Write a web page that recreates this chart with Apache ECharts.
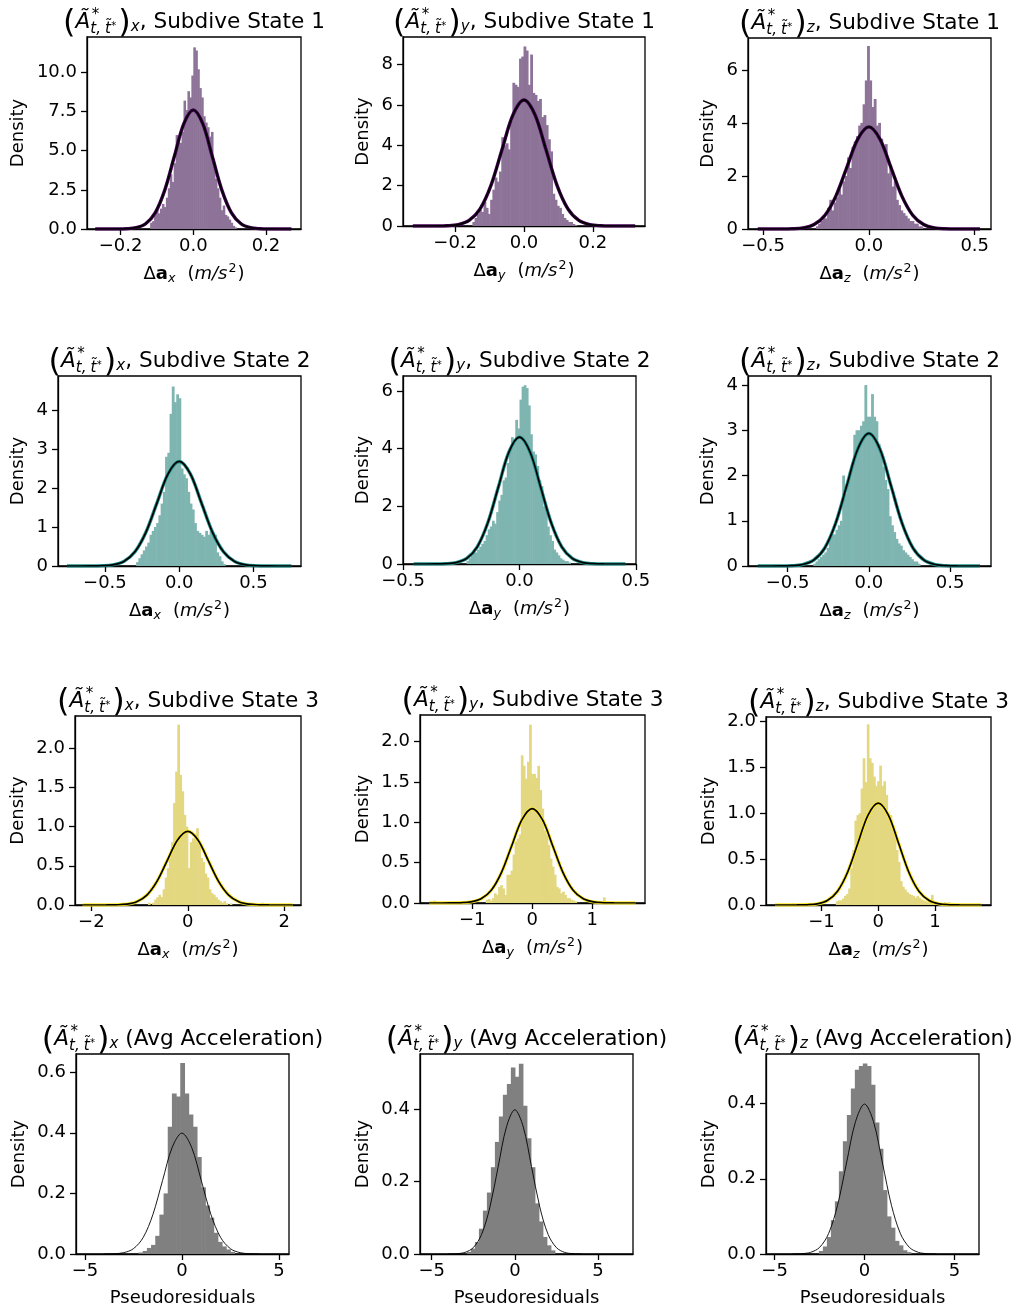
<!DOCTYPE html>
<html><head><meta charset="utf-8">
<script src="https://cdn.jsdelivr.net/npm/echarts@6/dist/echarts.min.js"></script>
<style>html,body{margin:0;padding:0;background:#fff}#c{width:1023px;height:1312px}</style>
</head><body><div id="c"></div><script>
// ---------------- DATA ----------------
// Histogram: first bin left edge, bin width, densities (per bin)
const p1HistStart=-0.1188, p1HistWidth=0.0054;
const p1Density=[0.4,0.5,0.9,1.2,1.0,1.3,1.6,1.4,2.0,2.6,3.5,3.0,4.2,6.0,5.8,5.5,6.2,8.2,7.6,8.8,8.4,9.8,11.6,11.4,10.2,9.0,8.4,7.2,6.8,6.5,5.9,6.2,4.0,3.2,2.6,2.0,1.2,1.5,0.9,0.8,0.6,0.4,0.2,0.1];
const p2HistStart=-0.1500, p2HistWidth=0.00646;
const p2Density=[0.2,0.4,0.6,0.8,0.7,1.2,0.9,0.6,1.3,1.8,2.4,2.2,2.7,4.4,4.0,4.1,3.8,5.2,7.1,7.0,6.9,8.3,8.4,8.9,8.7,7.0,8.5,6.6,6.5,6.2,6.3,5.4,5.5,5.0,4.3,3.7,1.6,1.3,1.0,0.9,0.6,0.4,0.3,0.2,0.2,0.1,0.05];
const p3HistStart=-0.2500, p3HistWidth=0.0105;
const p3Density=[0.1,0.2,0.3,0.5,0.4,0.8,1.1,0.7,1.0,1.2,1.5,1.3,1.8,2.0,2.7,2.3,3.1,3.3,3.5,3.9,4.0,4.7,5.6,6.9,5.6,4.6,4.9,3.9,4.0,3.4,3.0,3.2,2.1,2.4,1.6,1.8,1.1,0.9,0.7,0.6,0.5,0.4,0.3,0.3,0.2,0.2,0.1,0.1];
const p4HistStart=-0.2900, p4HistWidth=0.015;
const p4Density=[0.1,0.2,0.3,0.4,0.5,0.6,0.8,0.9,1.0,1.1,1.3,1.6,1.9,2.8,2.9,3.9,4.6,4.2,4.4,4.3,2.5,2.35,2.25,1.9,1.6,1.45,1.1,0.9,0.85,0.8,0.75,0.9,0.8,0.9,0.85,0.8,0.35,0.25,0.12,0.05];
const p5HistStart=-0.2275, p5HistWidth=0.0091;
const p5Density=[0.1,0.2,0.3,0.4,0.4,0.5,0.6,0.7,0.8,1.0,1.2,1.3,1.5,1.4,1.8,2.2,2.4,2.9,3.0,3.5,3.9,4.4,4.2,5.0,4.7,5.7,6.15,6.2,6.1,5.5,4.5,3.9,3.8,3.4,2.9,2.7,2.0,1.9,1.3,1.0,0.8,0.5,0.4,0.3,0.2,0.15,0.1,0.1,0.05];
const p6HistStart=-0.3420, p6HistWidth=0.01368;
const p6Density=[0.05,0.1,0.15,0.2,0.25,0.3,0.4,0.6,0.7,0.7,0.8,0.9,1.0,2.0,1.6,1.8,2.1,2.2,2.9,3.0,3.0,3.1,3.2,4.0,3.3,3.3,3.8,3.3,3.2,2.7,2.5,2.2,1.9,1.7,1.1,0.9,0.75,0.6,0.5,0.45,0.35,0.3,0.25,0.2,0.15,0.1,0.1,0.05];
const p7HistStart=-0.8265, p7HistWidth=0.0435;
const p7Density=[0.03,0,0.03,0.07,0.1,0.13,0.1,0.2,0.35,0.47,0.6,0.8,1.3,1.7,2.3,1.66,1.45,1.15,1.0,0.47,0.8,0.85,0.85,0.98,0.8,0.6,0.55,0.4,0.35,0.2,0.15,0.13,0.1,0.07,0.05,0.03,0.05,0.02,0,0.02];
const p7OutlierLeft=[1.175,1.349,1.523], p7OutlierDensity=[0.03,0.02,0.03];
const p8HistStart=-0.774, p8HistWidth=0.0344;
const p8Density=[0.04,0.05,0.03,0.06,0.12,0.1,0.2,0.22,0.18,0.1,0.35,0.35,0.4,0.6,0.76,0.8,0.85,1.83,1.7,1.54,1.75,2.21,1.6,1.6,1.55,1.7,1.4,1.17,0.9,0.85,0.72,0.55,0.45,0.35,0.2,0.18,0.12,0.14,0.1,0.06,0.06,0.04,0.03,0.02];
const p8OutlierLeft=[-1.65,1.18], p8OutlierDensity=[0.03,0.07];
const p9HistStart=-0.7483, p9HistWidth=0.0365;
const p9Density=[0.04,0.05,0.05,0.07,0.1,0.12,0.18,0.4,0.6,0.92,0.98,1.0,1.27,1.6,1.34,1.97,1.6,1.55,1.4,1.3,1.35,1.52,1.3,1.35,1.2,1.0,0.98,0.84,0.8,0.6,0.47,0.26,0.2,0.17,0.14,0.12,0.11,0.1,0.08,0.1,0.08,0.06,0.05,0.04,0.03,0.05,0.11,0.03];
const p9OutlierLeft=[-1.52,1.16,1.23], p9OutlierDensity=[0.02,0.03,0.03];
const p10HistStart=-2.236, p10HistWidth=0.215;
const p10Density=[0.005,0.01,0.02,0.03,0.06,0.13,0.2,0.42,0.53,0.52,0.63,0.53,0.46,0.42,0.32,0.22,0.16,0.12,0.07,0.04,0.025,0.015,0.007];
const p11HistStart=-2.88, p11HistWidth=0.24;
const p11Density=[0.006,0.015,0.033,0.07,0.12,0.17,0.24,0.31,0.38,0.44,0.47,0.516,0.49,0.526,0.41,0.32,0.24,0.14,0.09,0.047,0.024,0.01];
const p12HistStart=-2.537, p12HistWidth=0.2222;
const p12Density=[0.008,0.02,0.045,0.09,0.14,0.22,0.3,0.37,0.44,0.49,0.5,0.507,0.5,0.45,0.35,0.28,0.17,0.1,0.07,0.035,0.023,0.01,0.005];

// Fitted normal curves
const p1CurveX=[-0.27,-0.21,-0.1838,-0.1575,-0.1313,-0.105,-0.0788,-0.0525,-0.0263,0,0.0263,0.0525,0.0788,0.105,0.1313,0.1575,0.1838,0.21,0.27];
const p1CurveY=[0,0.0025,0.017,0.084,0.334,1.028,2.468,4.609,6.707,7.6,6.707,4.609,2.468,1.028,0.334,0.084,0.017,0.0025,0];
const p2CurveX=[-0.323,-0.2552,-0.2233,-0.1914,-0.1595,-0.1276,-0.0957,-0.0638,-0.0319,0,0.0319,0.0638,0.0957,0.1276,0.1595,0.1914,0.2233,0.2552,0.323];
const p2CurveY=[0,0.0021,0.0138,0.069,0.274,0.846,2.029,3.791,5.516,6.25,5.516,3.791,2.029,0.846,0.274,0.069,0.0138,0.0021,0];
const p3CurveX=[-0.525,-0.4144,-0.3626,-0.3108,-0.259,-0.2072,-0.1554,-0.1036,-0.0518,0,0.0518,0.1036,0.1554,0.2072,0.259,0.3108,0.3626,0.4144,0.525];
const p3CurveY=[0,0.0013,0.0085,0.0427,0.169,0.521,1.25,2.335,3.398,3.85,3.398,2.335,1.25,0.521,0.169,0.0427,0.0085,0.0013,0];
const p4CurveX=[-0.756,-0.596,-0.5215,-0.447,-0.3725,-0.298,-0.2235,-0.149,-0.0745,0,0.0745,0.149,0.2235,0.298,0.3725,0.447,0.5215,0.596,0.756];
const p4CurveY=[0,0.0009,0.0059,0.0297,0.118,0.363,0.87,1.625,2.365,2.68,2.365,1.625,0.87,0.363,0.118,0.0297,0.0059,0.0009,0];
const p5CurveX=[-0.455,-0.3628,-0.3175,-0.2721,-0.2268,-0.1814,-0.1361,-0.0907,-0.0454,0,0.0454,0.0907,0.1361,0.1814,0.2268,0.2721,0.3175,0.3628,0.455];
const p5CurveY=[0,0.0015,0.0097,0.0488,0.193,0.595,1.429,2.669,3.883,4.4,3.883,2.669,1.429,0.595,0.193,0.0488,0.0097,0.0015,0];
const p6CurveX=[-0.684,-0.544,-0.476,-0.408,-0.34,-0.272,-0.204,-0.136,-0.068,0,0.068,0.136,0.204,0.272,0.34,0.408,0.476,0.544,0.684];
const p6CurveY=[0,0.001,0.0064,0.0325,0.129,0.396,0.951,1.777,2.586,2.93,2.586,1.777,0.951,0.396,0.129,0.0325,0.0064,0.001,0];
const p7CurveX=[-2.18,-1.696,-1.484,-1.272,-1.06,-0.848,-0.636,-0.424,-0.212,0,0.212,0.424,0.636,0.848,1.06,1.272,1.484,1.696,2.18];
const p7CurveY=[0,0.0003,0.0021,0.0104,0.0413,0.127,0.305,0.57,0.83,0.94,0.83,0.57,0.305,0.127,0.0413,0.0104,0.0021,0.0003,0];
const p8CurveX=[-1.72,-1.364,-1.1935,-1.023,-0.8525,-0.682,-0.5115,-0.341,-0.1705,0,0.1705,0.341,0.5115,0.682,0.8525,1.023,1.1935,1.364,1.72];
const p8CurveY=[0,0.0004,0.0026,0.013,0.0514,0.158,0.38,0.71,1.033,1.17,1.033,0.71,0.38,0.158,0.0514,0.013,0.0026,0.0004,0];
const p9CurveX=[-1.82,-1.436,-1.2565,-1.077,-0.8975,-0.718,-0.5385,-0.359,-0.1795,0,0.1795,0.359,0.5385,0.718,0.8975,1.077,1.2565,1.436,1.82];
const p9CurveY=[0,0.0004,0.0024,0.0123,0.0487,0.15,0.36,0.673,0.98,1.11,0.98,0.673,0.36,0.15,0.0487,0.0123,0.0024,0.0004,0];
const stdCurveX=[-4,-3.5,-3,-2.5,-2,-1.5,-1,-0.5,0,0.5,1,1.5,2,2.5,3,3.5,4];
const stdCurveY=[0.00013,0.00087,0.0044,0.0175,0.054,0.1295,0.242,0.3521,0.3989,0.3521,0.242,0.1295,0.054,0.0175,0.0044,0.00087,0.00013];

// Tick values
const p1XTicks=[-0.2,0,0.2], p1YTicks=[0,2.5,5,7.5,10];
const p2XTicks=[-0.2,0,0.2], p2YTicks=[0,2,4,6,8];
const p3XTicks=[-0.5,0,0.5], p3YTicks=[0,2,4,6];
const p4XTicks=[-0.5,0,0.5], p4YTicks=[0,1,2,3,4];
const p5XTicks=[-0.5,0,0.5], p5YTicks=[0,2,4,6];
const p6XTicks=[-0.5,0,0.5], p6YTicks=[0,1,2,3,4];
const p7XTicks=[-2,0,2], p7YTicks=[0,0.5,1,1.5,2];
const p8XTicks=[-1,0,1], p8YTicks=[0,0.5,1,1.5,2];
const p9XTicks=[-1,0,1], p9YTicks=[0,0.5,1,1.5,2];
const p10XTicks=[-5,0,5], p10YTicks=[0,0.2,0.4,0.6];
const p11XTicks=[-5,0,5], p11YTicks=[0,0.2,0.4];
const p12XTicks=[-5,0,5], p12YTicks=[0,0.2,0.4];

const components=['x','y','z'];
const stateTitles=[', Subdive State 1',', Subdive State 2',', Subdive State 3',' (Avg Acceleration)'];

// ---------------- LAYOUT / STYLE ----------------
const FF='"DejaVu Sans"';
const rowFill=['#8e7398','#7fb5b1','#e3d780','#808080'];
const rowEdge=['#440154','#21918c','#fde725',null];

const panels=[
 {hs:p1HistStart,hw:p1HistWidth,hd:p1Density,cx:p1CurveX,cy:p1CurveY,xt:p1XTicks,yt:p1YTicks,xd:1,yd:1},
 {hs:p2HistStart,hw:p2HistWidth,hd:p2Density,cx:p2CurveX,cy:p2CurveY,xt:p2XTicks,yt:p2YTicks,xd:1,yd:0},
 {hs:p3HistStart,hw:p3HistWidth,hd:p3Density,cx:p3CurveX,cy:p3CurveY,xt:p3XTicks,yt:p3YTicks,xd:1,yd:0},
 {hs:p4HistStart,hw:p4HistWidth,hd:p4Density,cx:p4CurveX,cy:p4CurveY,xt:p4XTicks,yt:p4YTicks,xd:1,yd:0},
 {hs:p5HistStart,hw:p5HistWidth,hd:p5Density,cx:p5CurveX,cy:p5CurveY,xt:p5XTicks,yt:p5YTicks,xd:1,yd:0},
 {hs:p6HistStart,hw:p6HistWidth,hd:p6Density,cx:p6CurveX,cy:p6CurveY,xt:p6XTicks,yt:p6YTicks,xd:1,yd:0},
 {hs:p7HistStart,hw:p7HistWidth,hd:p7Density,cx:p7CurveX,cy:p7CurveY,xt:p7XTicks,yt:p7YTicks,xd:0,yd:1,ol:p7OutlierLeft,oh:p7OutlierDensity},
 {hs:p8HistStart,hw:p8HistWidth,hd:p8Density,cx:p8CurveX,cy:p8CurveY,xt:p8XTicks,yt:p8YTicks,xd:0,yd:1,ol:p8OutlierLeft,oh:p8OutlierDensity},
 {hs:p9HistStart,hw:p9HistWidth,hd:p9Density,cx:p9CurveX,cy:p9CurveY,xt:p9XTicks,yt:p9YTicks,xd:0,yd:1,ol:p9OutlierLeft,oh:p9OutlierDensity},
 {hs:p10HistStart,hw:p10HistWidth,hd:p10Density,cx:stdCurveX,cy:stdCurveY,xt:p10XTicks,yt:p10YTicks,xd:0,yd:1},
 {hs:p11HistStart,hw:p11HistWidth,hd:p11Density,cx:stdCurveX,cy:stdCurveY,xt:p11XTicks,yt:p11YTicks,xd:0,yd:1},
 {hs:p12HistStart,hw:p12HistWidth,hd:p12Density,cx:stdCurveX,cy:stdCurveY,xt:p12XTicks,yt:p12YTicks,xd:0,yd:1}
];
const layout=[
 {l:87,t:37,w:214,h:192,x0:-0.2926,x1:0.2964,ym:12.26,gap:60},
 {l:403,t:37,w:242,h:189,x0:-0.3516,x1:0.3516,ym:9.37,gap:31},
 {l:748,t:38,w:243,h:191,x0:-0.571,x1:0.577,ym:7.2,gap:31},
 {l:58,t:376,w:243,h:190,x0:-0.816,x1:0.82,ym:4.87,gap:31},
 {l:403,t:376,w:233,h:188,x0:-0.5005,x1:0.5005,ym:6.52,gap:31},
 {l:748,t:376,w:243,h:190,x0:-0.744,x1:0.752,ym:4.2,gap:31},
 {l:75,t:716,w:226,h:189,x0:-2.34,x1:2.35,ym:2.41,gap:48},
 {l:420,t:715,w:225,h:188,x0:-1.87,x1:1.88,ym:2.33,gap:48},
 {l:766,t:717,w:225,h:188,x0:-1.98,x1:1.99,ym:2.05,gap:48},
 {l:76,t:1054,w:213,h:200,x0:-5.46,x1:5.52,ym:0.66,gap:48},
 {l:420,t:1054,w:213,h:200,x0:-5.7,x1:7.1,ym:0.553,gap:48},
 {l:766,t:1054,w:213,h:200,x0:-5.48,x1:6.37,ym:0.532,gap:48}
];

// ---------------- math-like text helper ----------------
const mctx=document.createElement('canvas').getContext('2d');
function fontStr(p){return (p.it?'italic ':'normal ')+(p.b?'bold ':'normal ')+p.s+'px '+FF;}
function measure(p){mctx.font=fontStr(p);return mctx.measureText(p.t).width;}
function baseOff(p){mctx.font=fontStr(p);mctx.textBaseline='alphabetic';const a1=mctx.measureText('H').actualBoundingBoxAscent;mctx.textBaseline='middle';const a2=mctx.measureText('H').actualBoundingBoxAscent;mctx.textBaseline='alphabetic';return a1-a2;}
function mathText(parts,cx,base){
  let cur=0;const placed=[];
  for(const p of parts){const w=measure(p);const x=cur+(p.dx||0);placed.push([p,x]);if(p.adv!==false)cur=x+w;}
  const x0=cx-cur/2;
  return placed.map(([p,x])=>({type:'text',silent:true,x:x0+x,y:base+(p.dy||0)-baseOff(p),
    style:{text:p.t,fontSize:p.s,fontFamily:FF,fontStyle:p.it?'italic':'normal',fontWeight:p.b?'bold':'normal',fill:'#000',
      align:'left',verticalAlign:'middle',textAlign:'left',textVerticalAlign:'middle'}}));
}
function titleParts(comp,suffix){return [
  {t:'(',s:32,dy:4},
  {t:'\u00C3',s:21.6,it:1},
  {t:'*',s:15,dy:-8.5,dx:1.5,adv:false},
  {t:'t,',s:15,it:1,dy:5},
  {t:'t\u0303',s:15,it:1,dy:5,dx:4},
  {t:'*',s:10,dy:1,dx:0.5},
  {t:')',s:32,dy:4,dx:2},
  {t:comp,s:15,it:1,dy:3},
  {t:suffix,s:21.6}
];}
function xlabParts(comp){return [
  {t:'\u0394',s:18},{t:'a',s:18,b:1},{t:comp,s:12.6,it:1,dy:3},
  {t:'(',s:18,dx:12},{t:'m/s',s:18,it:1},{t:'2',s:12.6,dy:-7.5,dx:1},{t:')',s:18,dx:1}
];}
function fmt(v,d){return (v<-1e-12?'\u2212':'')+Math.abs(v).toFixed(d);}

// ---------------- build option ----------------
const grids=[],xAxes=[],yAxes=[],series=[],graphics=[];
panels.forEach((P,i)=>{
  const L=layout[i],r=Math.floor(i/3),c=i%3;
  grids.push({left:L.l,top:L.t,width:L.w,height:L.h,show:true,borderColor:'#000',borderWidth:1.3,backgroundColor:'rgba(0,0,0,0)',containLabel:false,outerBoundsMode:'none'});
  xAxes.push({gridIndex:i,type:'value',min:L.x0,max:L.x1,splitLine:{show:false},
    axisLine:{show:true,onZero:false,lineStyle:{color:'#000',width:1.3}},
    axisTick:{show:true,length:6,lineStyle:{color:'#000',width:1.3},customValues:P.xt},
    axisLabel:{customValues:P.xt,formatter:v=>fmt(v,P.xd),fontSize:18,fontFamily:FF,color:'#000',margin:8,hideOverlap:false}});
  yAxes.push({gridIndex:i,type:'value',min:0,max:L.ym,splitLine:{show:false},
    axisLine:{show:true,onZero:false,lineStyle:{color:'#000',width:1.3}},
    axisTick:{show:true,length:6,lineStyle:{color:'#000',width:1.3},customValues:P.yt},
    axisLabel:{customValues:P.yt,formatter:v=>fmt(v,P.yd),fontSize:18,fontFamily:FF,color:'#000',margin:10,hideOverlap:false},
    name:'Density',nameLocation:'middle',nameGap:L.gap,nameTextStyle:{fontSize:18,fontFamily:FF,color:'#000'}});
  const items=P.hd.map((d,k)=>[P.hs+k*P.hw,P.hs+(k+1)*P.hw,d]);
  if(P.ol) P.ol.forEach((x,k)=>items.push([x,x+P.hw,P.oh[k]]));
  const fill=rowFill[r];
  series.push({type:'custom',xAxisIndex:i,yAxisIndex:i,clip:true,silent:true,animation:false,z:2,data:items,
    renderItem:(params,api)=>{const a=api.coord([api.value(0),api.value(2)]),b=api.coord([api.value(1),0]);
      return {type:'rect',shape:{x:a[0],y:a[1],width:b[0]-a[0]+0.6,height:b[1]-a[1]},style:{fill:fill}};}});
  const cdata=P.cx.map((x,k)=>[x,P.cy[k]]);
  if(rowEdge[r]) series.push({type:'line',xAxisIndex:i,yAxisIndex:i,data:cdata,smooth:0.33,showSymbol:false,symbol:'none',silent:true,animation:false,z:3,lineStyle:{color:rowEdge[r],width:3.4}});
  series.push({type:'line',xAxisIndex:i,yAxisIndex:i,data:cdata,smooth:0.33,showSymbol:false,symbol:'none',silent:true,animation:false,z:4,lineStyle:{color:'#000',width:r<3?1.7:0.9}});
  const cxm=L.l+L.w/2;
  graphics.push(...mathText(titleParts(components[c],stateTitles[r]),cxm,L.t-9.5));
  if(r<3) graphics.push(...mathText(xlabParts(components[c]),cxm,L.t+L.h+50));
  else graphics.push(...mathText([{t:'Pseudoresiduals',s:18}],cxm,L.t+L.h+48.5));
});

const chart=echarts.init(document.getElementById('c'),null,{renderer:'canvas'});
chart.setOption({animation:false,backgroundColor:'#fff',grid:grids,xAxis:xAxes,yAxis:yAxes,series:series,graphic:{elements:graphics}});
</script></body></html>
